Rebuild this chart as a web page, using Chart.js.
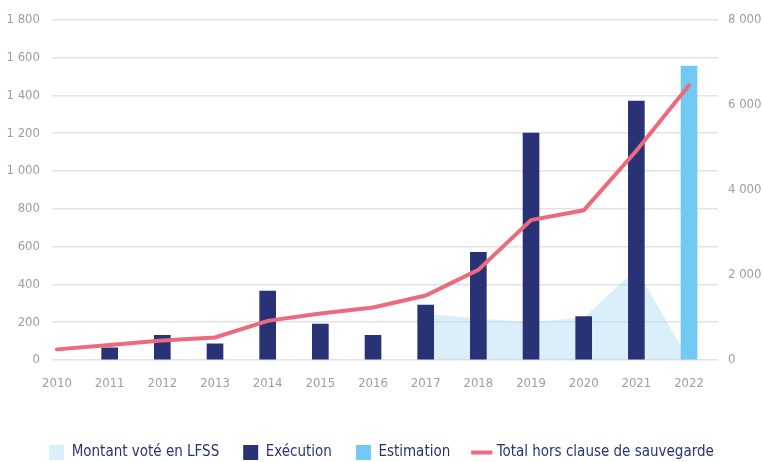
<!DOCTYPE html>
<html>
<head>
<meta charset="utf-8">
<script src="https://cdn.jsdelivr.net/npm/chart.js@4/dist/chart.umd.min.js"></script>
<style>
  html, body { margin: 0; padding: 0; background: #fff; }
</style>
</head>
<body>
<canvas id="chart" width="763" height="462"></canvas>
<script>
// years on the x axis
const years = [2010, 2011, 2012, 2013, 2014, 2015, 2016, 2017, 2018, 2019, 2020, 2021, 2022];

// left axis (0 - 1 800)
const montantLfss = [null, null, null, null, null, null, null, 245, 220, 200, 225, 480, 0];
const execution   = [null, 65, 130, 85, 365, 190, 130, 290, 570, 1200, 230, 1370, null];
const estimation  = [null, null, null, null, null, null, null, null, null, null, null, null, 1555];

// right axis (0 - 8 000)
const totalHorsClause = [250, 350, 460, 530, 920, 1095, 1235, 1515, 2120, 3290, 3520, 4920, 6460];

const FONT = "'Liberation Sans Narrow', 'DejaVu Sans Condensed', 'Arial Narrow', sans-serif";
const GREY = '#9e9e9e';
const NAVY = '#2a3276';

const toPoints = arr => years.map((yr, i) => ({ x: yr, y: arr[i] }));
const withSpace = v => String(v).replace(/\B(?=(\d{3})+(?!\d))/g, ' ');

// keep the legend low, close to the bottom edge
const legendSpace = {
    id: 'legendSpace',
    beforeLayout(chart) {
        const lg = chart.legend;
        if (lg && !lg._patched) {
            const fit = lg.fit.bind(lg);
            lg.fit = function () { fit(); this.height = 41; };
            lg._patched = true;
        }
    }
};

const data = {
    datasets: [
        {
            type: 'line',
            label: 'Montant voté en LFSS',
            data: toPoints(montantLfss),
            yAxisID: 'y',
            fill: 'origin',
            backgroundColor: 'rgba(175,220,245,0.45)',
            borderWidth: 0,
            pointRadius: 0,
            pointStyle: 'rect',
            tension: 0,
            order: 3
        },
        {
            type: 'bar',
            label: 'Exécution',
            data: toPoints(execution),
            yAxisID: 'y',
            backgroundColor: NAVY,
            barThickness: 16,
            grouped: false,
            pointStyle: 'rect',
            order: 2
        },
        {
            type: 'bar',
            label: 'Estimation',
            data: toPoints(estimation),
            yAxisID: 'y',
            backgroundColor: '#72c9f3',
            barThickness: 16,
            grouped: false,
            pointStyle: 'rect',
            order: 2
        },
        {
            type: 'line',
            label: 'Total hors clause de sauvegarde',
            data: toPoints(totalHorsClause),
            yAxisID: 'y1',
            borderColor: '#ec6a7c',
            backgroundColor: '#ec6a7c',
            borderWidth: 4,
            borderCapStyle: 'round',
            pointRadius: 0,
            pointStyle: 'line',
            tension: 0,
            fill: false,
            order: 0
        }
    ]
};

const config = {
    type: 'bar',
    data: data,
    options: {
        responsive: false,
        animation: false,
        layout: { padding: { top: 17, left: 0, right: 0, bottom: 0 } },
        scales: {
            x: {
                type: 'linear',
                offset: false,
                min: 2009.905,
                max: 2022.55,
                grid: { display: false },
                border: { display: false },
                afterBuildTicks: s => { s.ticks = years.map(v => ({ value: v })); },
                afterFit: s => { s.height = 61; },
                ticks: {
                    autoSkip: false,
                    maxRotation: 0,
                    padding: 8,
                    color: GREY,
                    font: { family: FONT, size: 13 },
                    callback: v => String(v)
                }
            },
            y: {
                position: 'left',
                min: 0,
                max: 1800,
                border: { display: false },
                grid: { color: '#e3e3e3', lineWidth: 1.5, drawTicks: false },
                afterFit: s => { s.width = 52; },
                ticks: {
                    stepSize: 200,
                    padding: 12,
                    color: GREY,
                    font: { family: FONT, size: 13 },
                    callback: v => withSpace(v)
                }
            },
            y1: {
                position: 'right',
                min: 0,
                max: 8000,
                border: { display: false },
                grid: { display: false, drawTicks: false },
                afterFit: s => { s.width = 45; },
                ticks: {
                    stepSize: 2000,
                    padding: 10,
                    color: GREY,
                    font: { family: FONT, size: 13 },
                    callback: v => withSpace(v)
                }
            }
        },
        plugins: {
            tooltip: { enabled: false },
            legend: {
                position: 'bottom',
                labels: {
                    usePointStyle: true,
                    boxWidth: 15,
                    boxHeight: 15,
                    padding: 24,
                    color: NAVY,
                    font: { family: FONT, size: 15 },
                    sort: (a, b) => a.datasetIndex - b.datasetIndex
                }
            }
        }
    },
    plugins: [legendSpace]
};

const myChart = new Chart(document.getElementById('chart'), config);
</script>
</body>
</html>
